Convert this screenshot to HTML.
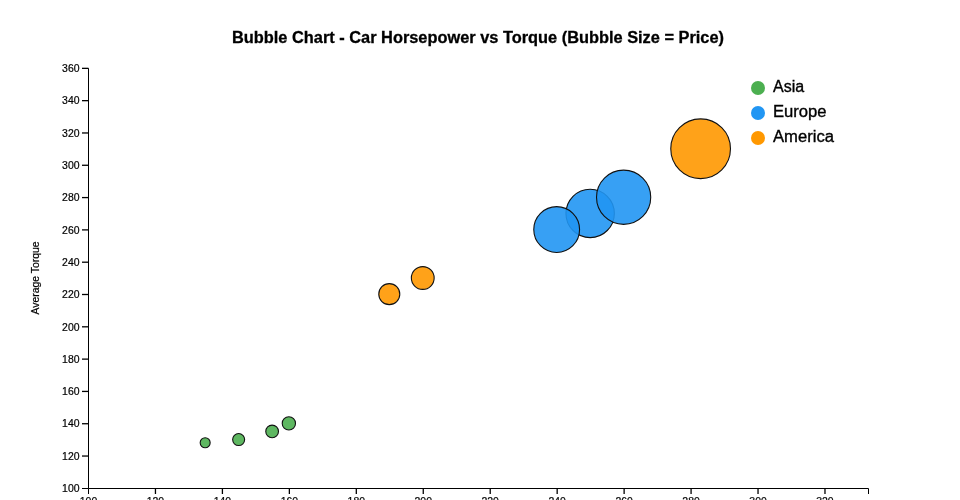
<!DOCTYPE html>
<html><head><meta charset="utf-8"><style>
html,body{margin:0;padding:0;background:#fff;overflow:hidden;}
svg{display:block;will-change:transform;font-family:"Liberation Sans",sans-serif;}
</style></head><body>
<svg width="960" height="500" viewBox="0 0 960 500">
<text x="478" y="42.5" text-anchor="middle" font-size="16" font-weight="bold" fill="#000" stroke="#000" stroke-width="0.3" textLength="492" lengthAdjust="spacingAndGlyphs">Bubble Chart - Car Horsepower vs Torque (Bubble Size = Price)</text>
<g fill="none" stroke="#000" stroke-width="1">
<path d="M82,68.50H88.5V488.50H82"/>
<path d="M88.5,494V488.5H868.5V494"/>
<line x1="82" y1="456.04" x2="88.5" y2="456.04" stroke-width="1.3"/>
<line x1="82" y1="423.73" x2="88.5" y2="423.73" stroke-width="1.3"/>
<line x1="82" y1="391.43" x2="88.5" y2="391.43" stroke-width="1.3"/>
<line x1="82" y1="359.12" x2="88.5" y2="359.12" stroke-width="1.3"/>
<line x1="82" y1="326.81" x2="88.5" y2="326.81" stroke-width="1.3"/>
<line x1="82" y1="294.50" x2="88.5" y2="294.50" stroke-width="1.3"/>
<line x1="82" y1="262.20" x2="88.5" y2="262.20" stroke-width="1.3"/>
<line x1="82" y1="229.89" x2="88.5" y2="229.89" stroke-width="1.3"/>
<line x1="82" y1="197.58" x2="88.5" y2="197.58" stroke-width="1.3"/>
<line x1="82" y1="165.27" x2="88.5" y2="165.27" stroke-width="1.3"/>
<line x1="82" y1="132.97" x2="88.5" y2="132.97" stroke-width="1.3"/>
<line x1="82" y1="100.66" x2="88.5" y2="100.66" stroke-width="1.3"/>
<line x1="82" y1="68.35" x2="88.5" y2="68.35" stroke-width="1.3"/>
<line x1="155.45" y1="488.5" x2="155.45" y2="494" stroke-width="1.3"/>
<line x1="222.41" y1="488.5" x2="222.41" y2="494" stroke-width="1.3"/>
<line x1="289.36" y1="488.5" x2="289.36" y2="494" stroke-width="1.3"/>
<line x1="356.31" y1="488.5" x2="356.31" y2="494" stroke-width="1.3"/>
<line x1="423.26" y1="488.5" x2="423.26" y2="494" stroke-width="1.3"/>
<line x1="490.22" y1="488.5" x2="490.22" y2="494" stroke-width="1.3"/>
<line x1="557.17" y1="488.5" x2="557.17" y2="494" stroke-width="1.3"/>
<line x1="624.12" y1="488.5" x2="624.12" y2="494" stroke-width="1.3"/>
<line x1="691.08" y1="488.5" x2="691.08" y2="494" stroke-width="1.3"/>
<line x1="758.03" y1="488.5" x2="758.03" y2="494" stroke-width="1.3"/>
<line x1="824.98" y1="488.5" x2="824.98" y2="494" stroke-width="1.3"/>
</g>
<g font-size="10" fill="#000" stroke="#000" stroke-width="0.2">
<text x="79.5" y="492.10" text-anchor="end" textLength="17.4" lengthAdjust="spacingAndGlyphs">100</text>
<text x="79.5" y="459.79" text-anchor="end" textLength="17.4" lengthAdjust="spacingAndGlyphs">120</text>
<text x="79.5" y="427.48" text-anchor="end" textLength="17.4" lengthAdjust="spacingAndGlyphs">140</text>
<text x="79.5" y="395.18" text-anchor="end" textLength="17.4" lengthAdjust="spacingAndGlyphs">160</text>
<text x="79.5" y="362.87" text-anchor="end" textLength="17.4" lengthAdjust="spacingAndGlyphs">180</text>
<text x="79.5" y="330.56" text-anchor="end" textLength="17.4" lengthAdjust="spacingAndGlyphs">200</text>
<text x="79.5" y="298.25" text-anchor="end" textLength="17.4" lengthAdjust="spacingAndGlyphs">220</text>
<text x="79.5" y="265.95" text-anchor="end" textLength="17.4" lengthAdjust="spacingAndGlyphs">240</text>
<text x="79.5" y="233.64" text-anchor="end" textLength="17.4" lengthAdjust="spacingAndGlyphs">260</text>
<text x="79.5" y="201.33" text-anchor="end" textLength="17.4" lengthAdjust="spacingAndGlyphs">280</text>
<text x="79.5" y="169.02" text-anchor="end" textLength="17.4" lengthAdjust="spacingAndGlyphs">300</text>
<text x="79.5" y="136.72" text-anchor="end" textLength="17.4" lengthAdjust="spacingAndGlyphs">320</text>
<text x="79.5" y="104.41" text-anchor="end" textLength="17.4" lengthAdjust="spacingAndGlyphs">340</text>
<text x="79.5" y="72.10" text-anchor="end" textLength="17.4" lengthAdjust="spacingAndGlyphs">360</text>
<text x="88.50" y="504.6" text-anchor="middle" textLength="17.4" lengthAdjust="spacingAndGlyphs">100</text>
<text x="155.45" y="504.6" text-anchor="middle" textLength="17.4" lengthAdjust="spacingAndGlyphs">120</text>
<text x="222.41" y="504.6" text-anchor="middle" textLength="17.4" lengthAdjust="spacingAndGlyphs">140</text>
<text x="289.36" y="504.6" text-anchor="middle" textLength="17.4" lengthAdjust="spacingAndGlyphs">160</text>
<text x="356.31" y="504.6" text-anchor="middle" textLength="17.4" lengthAdjust="spacingAndGlyphs">180</text>
<text x="423.26" y="504.6" text-anchor="middle" textLength="17.4" lengthAdjust="spacingAndGlyphs">200</text>
<text x="490.22" y="504.6" text-anchor="middle" textLength="17.4" lengthAdjust="spacingAndGlyphs">220</text>
<text x="557.17" y="504.6" text-anchor="middle" textLength="17.4" lengthAdjust="spacingAndGlyphs">240</text>
<text x="624.12" y="504.6" text-anchor="middle" textLength="17.4" lengthAdjust="spacingAndGlyphs">260</text>
<text x="691.08" y="504.6" text-anchor="middle" textLength="17.4" lengthAdjust="spacingAndGlyphs">280</text>
<text x="758.03" y="504.6" text-anchor="middle" textLength="17.4" lengthAdjust="spacingAndGlyphs">300</text>
<text x="824.98" y="504.6" text-anchor="middle" textLength="17.4" lengthAdjust="spacingAndGlyphs">320</text>
</g>
<text transform="translate(39,278) rotate(-90)" text-anchor="middle" font-size="10" fill="#000" stroke="#000" stroke-width="0.2" textLength="73" lengthAdjust="spacingAndGlyphs">Average Torque</text>
<g stroke="#111" stroke-width="1.1" fill-opacity="0.9" stroke-opacity="1">
<circle cx="205.17" cy="442.77" r="5.0" fill="#4CAF50"/>
<circle cx="238.64" cy="439.54" r="6.0" fill="#4CAF50"/>
<circle cx="272.12" cy="431.46" r="6.35" fill="#4CAF50"/>
<circle cx="288.86" cy="423.38" r="6.63" fill="#4CAF50"/>
<circle cx="389.29" cy="294.15" r="10.5" fill="#FF9800"/>
<circle cx="422.76" cy="278.00" r="11.4" fill="#FF9800"/>
<circle cx="590.15" cy="213.38" r="24.2" fill="#2196F3"/>
<circle cx="556.67" cy="229.54" r="22.9" fill="#2196F3"/>
<circle cx="623.62" cy="197.23" r="27.1" fill="#2196F3"/>
<circle cx="700.62" cy="148.77" r="29.85" fill="#FF9800"/>
</g>
<circle cx="758" cy="88" r="7" fill="#4CAF50"/>
<text x="773" y="91.8" font-size="16" fill="#000" stroke="#000" stroke-width="0.35">Asia</text>
<circle cx="758" cy="113" r="7" fill="#2196F3"/>
<text x="773" y="116.8" font-size="16" fill="#000" stroke="#000" stroke-width="0.35" textLength="53.6" lengthAdjust="spacingAndGlyphs">Europe</text>
<circle cx="758" cy="138" r="7" fill="#FF9800"/>
<text x="773" y="141.8" font-size="16" fill="#000" stroke="#000" stroke-width="0.35" textLength="61" lengthAdjust="spacingAndGlyphs">America</text>
</svg>
</body></html>
